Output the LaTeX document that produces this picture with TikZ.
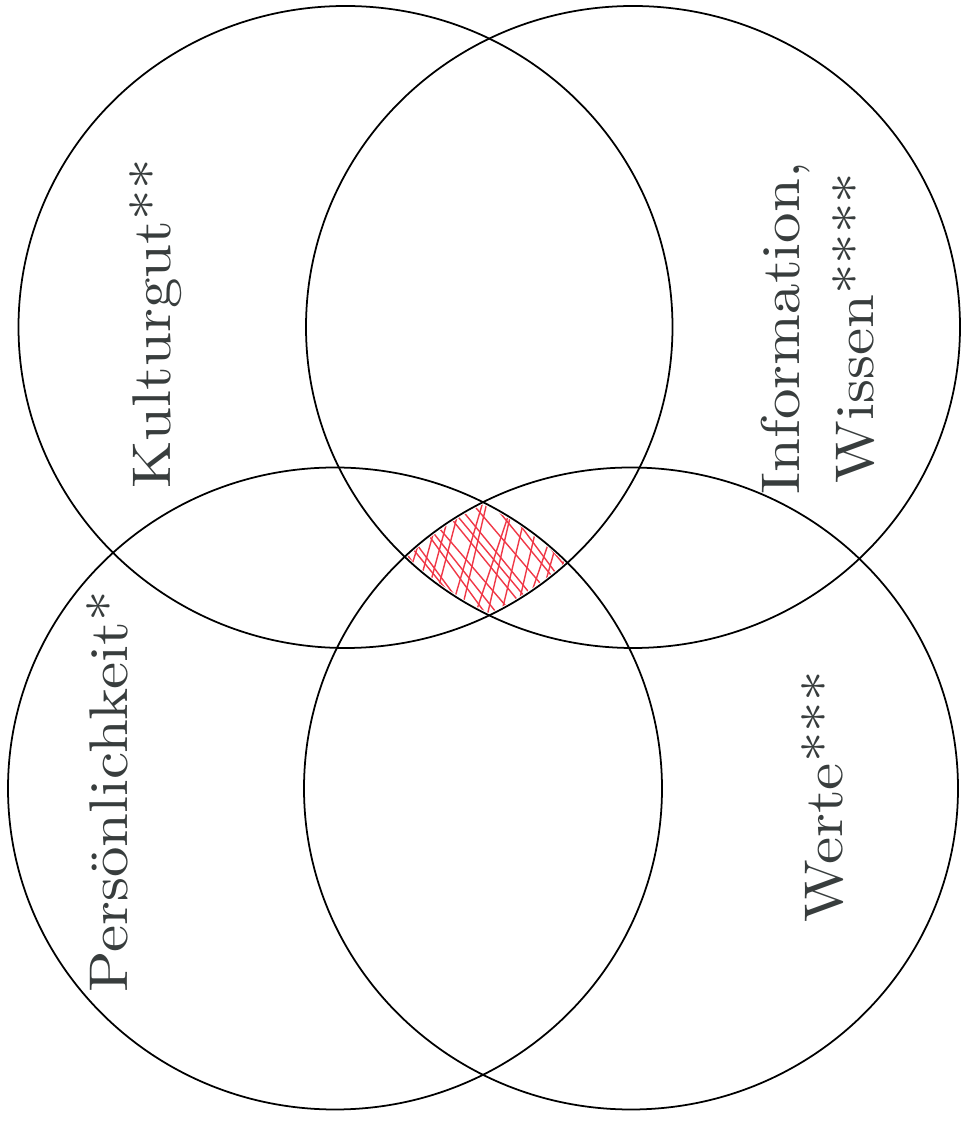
\documentclass[tikz,border=0pt]{standalone}
\usepackage{fontspec}
\setmainfont{lmroman10-regular}[Extension=.otf]
\usepackage{graphicx}
\usepackage{xcolor}
\definecolor{labelgray}{rgb}{0.22,0.24,0.24}
\definecolor{hatchred}{rgb}{0.94,0.22,0.28}
\usepackage{tikz}
\newcommand{\widetext}[1]{\scalebox{1.12}[1]{#1}}
\begin{document}
\begin{tikzpicture}[
  ring/.style={draw, line width=1pt},
  area/.style={rotate=90, anchor=base, text=labelgray,
               font=\fontsize{31}{42}\selectfont},
  hatch/.style={draw=hatchred, line width=0.8pt, line cap=round},
]
\useasboundingbox (0,0) rectangle (19.22,22.48);
\pgfmathsetseed{7}

% --- centres ---
\coordinate (kultur) at (6.91,15.94);
\coordinate (wissen) at (12.66,15.94);
\coordinate (person) at (6.70,6.71);
\coordinate (werte) at (12.62,6.71);

% --- common area ---
\begin{scope}
  \clip (kultur) ellipse [x radius=6.50, y radius=6.38];
  \clip (wissen) ellipse [x radius=6.50, y radius=6.38];
  \clip (person) ellipse [x radius=6.50, y radius=6.38];
  \clip (werte) ellipse [x radius=6.50, y radius=6.38];
  \foreach \x in {8.0,8.26,...,11.7}
    \draw[hatch] (\x+0.05*rand,11.32+0.1*rand) ++(74+3*rand:-1.4) -- ++(74+3*rand:2.8);
  \foreach \x in {7.3,7.56,...,12.3}
    \draw[hatch] (\x+0.05*rand,11.32+0.1*rand) ++(128+3*rand:-1.6) -- ++(128+3*rand:3.2);
\end{scope}

% --- circles ---
\draw[ring] (kultur) ellipse [x radius=6.54, y radius=6.42];
\draw[ring] (wissen) ellipse [x radius=6.54, y radius=6.42];
\draw[ring] (person) ellipse [x radius=6.54, y radius=6.42];
\draw[ring] (werte) ellipse [x radius=6.54, y radius=6.42];

% --- labels ---
\node[area] (kulturlabel) at (3.40,16.00) {\widetext{Kulturgut**}};
\node[area, anchor=center, align=center] (wissenlabel) at (16.36,15.92)
  {\widetext{Information,}\\\widetext{Wissen****}};
\node[area] (personlabel) at (2.54,6.64) {\widetext{Persönlichkeit*}};
\node[area] (wertelabel) at (16.84,6.54) {\widetext{Werte***}};
\end{tikzpicture}
\end{document}
